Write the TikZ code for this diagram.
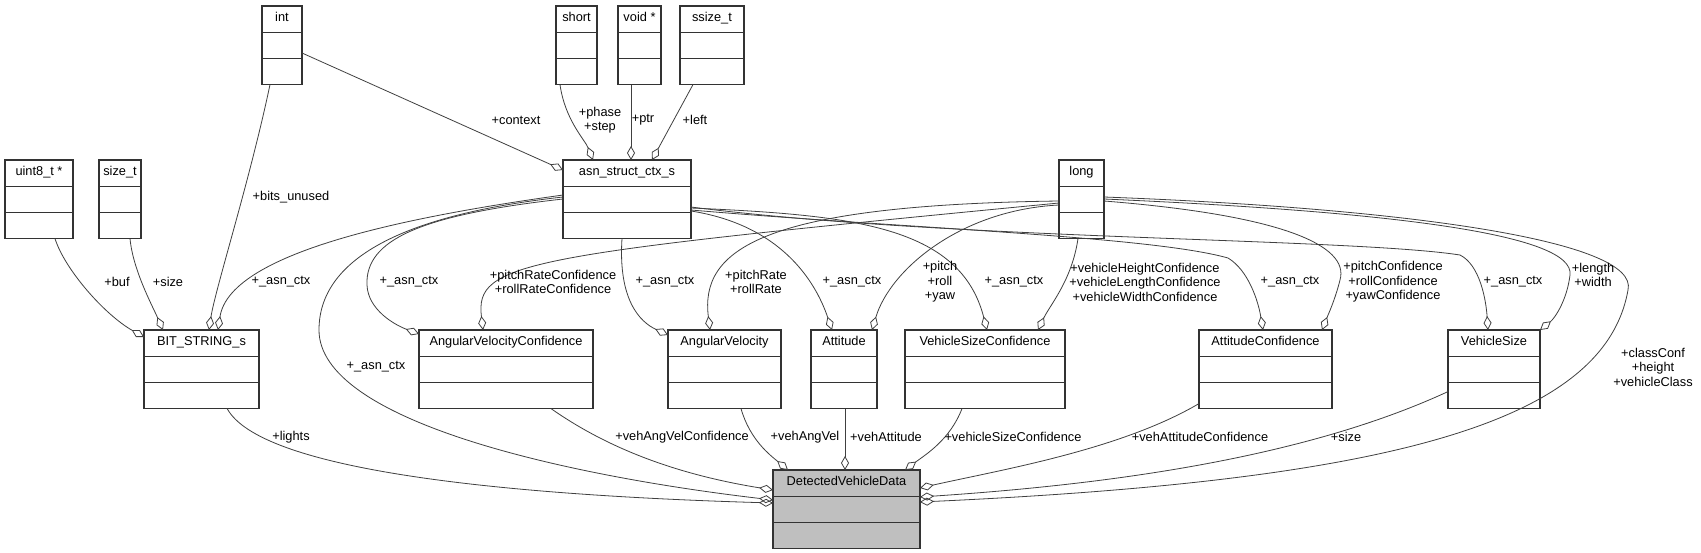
\documentclass[tikz,border=0pt]{standalone}
\usepackage{fontspec}
\setmainfont{Liberation Sans}
\usetikzlibrary{shapes.multipart,arrows.meta,calc}
\definecolor{edgegray}{HTML}{404040}
\definecolor{focusgray}{HTML}{BFBFBF}
\newcommand{\rowstrut}{\rule[-4pt]{0pt}{13pt}}
\newcommand{\cls}[1]{#1\rowstrut\nodepart{two}\rowstrut\nodepart{three}\rowstrut}
\begin{document}
\begin{tikzpicture}[x=1pt,y=-1pt,
  font=\fontsize{12.8}{14.5}\selectfont,
  box/.style={draw=black!80, line width=1.1pt, fill=white, rectangle split, rectangle split parts=3,
    anchor=north west, outer sep=0pt, inner xsep=2pt, inner ysep=6pt},
  mem/.style={draw=edgegray, line width=0.8pt, -{Diamond[open,length=14pt,width=8pt]}},
  lbl/.style={align=center, inner sep=0pt}]
\useasboundingbox[fill=white] (0,0) rectangle (1701,552);
\node[box, minimum width=40pt] (int) at (262,6) {\cls{int}};
\node[box, minimum width=41pt] (short) at (556,6) {\cls{short}};
\node[box, minimum width=43pt] (voidp) at (618,6) {\cls{void *}};
\node[box, minimum width=64pt] (ssizet) at (680,6) {\cls{ssize\_t}};
\node[box, minimum width=68pt] (uint8) at (5,160) {\cls{uint8\_t *}};
\node[box, minimum width=42pt] (sizet) at (99,160) {\cls{size\_t}};
\node[box, minimum width=128pt] (asnctx) at (563,160) {\cls{asn\_struct\_ctx\_s}};
\node[box, minimum width=45pt] (long) at (1059,160) {\cls{long}};
\node[box, minimum width=115pt] (bitstr) at (144,330) {\cls{BIT\_STRING\_s}};
\node[box, minimum width=174pt] (avconf) at (419,330) {\cls{AngularVelocityConfidence}};
\node[box, minimum width=113pt] (angvel) at (668,330) {\cls{AngularVelocity}};
\node[box, minimum width=66pt] (att) at (811,330) {\cls{Attitude}};
\node[box, minimum width=160pt] (vsconf) at (905,330) {\cls{VehicleSizeConfidence}};
\node[box, minimum width=133pt] (attconf) at (1199,330) {\cls{AttitudeConfidence}};
\node[box, minimum width=92pt] (vsize) at (1448,330) {\cls{VehicleSize}};
\node[box, fill=focusgray, minimum width=147pt] (dvd) at (773,470) {\cls{DetectedVehicleData}};
\draw[mem] ($(uint8.south west)+(50,0)$) .. controls (65,270) and (105,315) .. ($(bitstr.north west)+(0,7)$);
\draw[mem] ($(sizet.south west)+(31,0)$) .. controls (133,270) and (152,305) .. ($(bitstr.north west)+(19,0)$);
\draw[mem] ($(int.south west)+(8,0)$) .. controls (250,180) and (215,290) .. ($(bitstr.north west)+(65,0)$);
\draw[mem] ($(asnctx.north west)+(0,35)$) .. controls (420,215) and (230,250) .. ($(bitstr.north west)+(74,0)$);
\draw[mem] ($(int.north east)+(0,47)$) -- ($(asnctx.north west)+(0,10)$);
\draw[mem] ($(short.south west)+(4,0)$) .. controls (565,120) and (585,140) .. ($(asnctx.north west)+(30,0)$);
\draw[mem] ($(voidp.south west)+(13,0)$) -- ($(asnctx.north west)+(68,0)$);
\draw[mem] ($(ssizet.south west)+(13,0)$) -- ($(asnctx.north west)+(89,0)$);
\draw[mem] ($(asnctx.north west)+(0,37)$) .. controls (400,215) and (319,260) .. (319,330)
  .. controls (319,420) and (560,475) .. ($(dvd.north west)+(0,30)$);
\draw[mem] ($(asnctx.north west)+(0,39)$) .. controls (420,215) and (365,240) .. (367,285)
  .. controls (368,310) and (395,325) .. ($(avconf.north west)+(0,4)$);
\draw[mem] ($(long.north west)+(0,43)$) .. controls (520,255) and (475,262) .. ($(avconf.north west)+(64,0)$);
\draw[mem] ($(asnctx.south west)+(59,0)$) .. controls (618,300) and (640,322) .. ($(angvel.north west)+(0,5)$);
\draw[mem] ($(long.north west)+(0,41)$) .. controls (760,205) and (700,250) .. ($(angvel.north west)+(42,0)$);
\draw[mem] ($(asnctx.north east)+(0,51)$) .. controls (780,225) and (815,280) .. ($(att.north west)+(21,0)$);
\draw[mem] ($(long.north west)+(0,45)$) .. controls (960,210) and (890,270) .. ($(att.north west)+(61,0)$);
\draw[mem] ($(asnctx.north east)+(0,48)$) .. controls (850,215) and (960,225) .. ($(vsconf.north west)+(82,0)$);
\draw[mem] ($(long.south west)+(19,0)$) .. controls (1072,280) and (1050,305) .. ($(vsconf.north west)+(133,0)$);
\draw[mem] ($(asnctx.north east)+(0,50)$) .. controls (900,228) and (1150,236) .. (1228,258)
  .. controls (1248,270) and (1258,300) .. ($(attconf.north west)+(64,0)$);
\draw[mem] ($(long.north east)+(0,41)$) .. controls (1280,215) and (1350,245) .. (1340,280)
  .. controls (1335,300) and (1328,315) .. ($(attconf.north west)+(123,0)$);
\draw[mem] ($(asnctx.north east)+(0,47)$) .. controls (950,240) and (1350,238) .. (1460,255)
  .. controls (1480,265) and (1486,300) .. ($(vsize.north west)+(40,0)$);
\draw[mem] ($(long.north east)+(0,39)$) .. controls (1400,212) and (1575,235) .. (1570,275)
  .. controls (1567,300) and (1555,318) .. ($(vsize.north west)+(92,0)$);
\draw[mem] ($(long.north east)+(0,37)$) .. controls (1400,208) and (1640,240) .. (1628,290)
  .. controls (1605,420) and (1400,480) .. ($(dvd.north east)+(0,32)$);
\draw[mem] ($(bitstr.south west)+(83,0)$) .. controls (260,470) and (500,495) .. ($(dvd.north west)+(0,33)$);
\draw[mem] ($(avconf.south west)+(132,0)$) .. controls (610,450) and (680,475) .. ($(dvd.north west)+(0,20)$);
\draw[mem] ($(angvel.south west)+(73,0)$) .. controls (750,440) and (770,455) .. ($(dvd.north west)+(15,0)$);
\draw[mem] ($(att.south west)+(34,0)$) -- ($(dvd.north west)+(72,0)$);
\draw[mem] ($(vsconf.south west)+(57,0)$) .. controls (950,440) and (925,455) .. ($(dvd.north west)+(132,0)$);
\draw[mem] ($(attconf.south west)+(0,-5)$) .. controls (1120,450) and (1000,470) .. ($(dvd.north east)+(0,18)$);
\draw[mem] ($(vsize.south west)+(0,-17)$) .. controls (1300,460) and (1100,485) .. ($(dvd.north east)+(0,27)$);
\node[lbl] (lbuf) at (117,282) {+buf};
\node[lbl] (lsize) at (168,282) {+size};
\node[lbl] (lbits) at (291,197) {+bits\_unused};
\node[lbl] (lctxbit) at (281,282) {+\_asn\_ctx};
\node[lbl] (lcontext) at (516,120) {+context};
\node[lbl] (lphase) at (600,120) {+phase\\+step};
\node[lbl] (lptr) at (643,120) {+ptr};
\node[lbl] (lleft) at (695,120) {+left};
\node[lbl] (lctxdvd) at (376,367) {+\_asn\_ctx};
\node[lbl] (lctxavc) at (409,282) {+\_asn\_ctx};
\node[lbl] (lrateconf) at (553,282) {+pitchRateConfidence\\+rollRateConfidence};
\node[lbl] (lctxav) at (665,282) {+\_asn\_ctx};
\node[lbl] (lrate) at (756,282) {+pitchRate\\+rollRate};
\node[lbl] (lctxatt) at (852,282) {+\_asn\_ctx};
\node[lbl] (lpry) at (940,282) {+pitch\\+roll\\+yaw};
\node[lbl] (lctxvsc) at (1014,282) {+\_asn\_ctx};
\node[lbl] (lvsconf) at (1145,282) {+vehicleHeightConfidence\\+vehicleLengthConfidence\\+vehicleWidthConfidence};
\node[lbl] (lctxac) at (1290,282) {+\_asn\_ctx};
\node[lbl] (lattconf) at (1393,282) {+pitchConfidence\\+rollConfidence\\+yawConfidence};
\node[lbl] (lctxvs) at (1513,282) {+\_asn\_ctx};
\node[lbl] (llength) at (1593,275) {+length\\+width};
\node[lbl] (lclass) at (1653,367) {+classConf\\+height\\+vehicleClass};
\node[lbl] (llights) at (291,437) {+lights};
\node[lbl] (lavconf) at (682,437) {+vehAngVelConfidence};
\node[lbl] (langvel) at (805,437) {+vehAngVel};
\node[lbl] (latt) at (886,437) {+vehAttitude};
\node[lbl] (lvsc) at (1013,437) {+vehicleSizeConfidence};
\node[lbl] (lattc) at (1200,437) {+vehAttitudeConfidence};
\node[lbl] (lsizevs) at (1346,437) {+size};
\end{tikzpicture}
\end{document}
